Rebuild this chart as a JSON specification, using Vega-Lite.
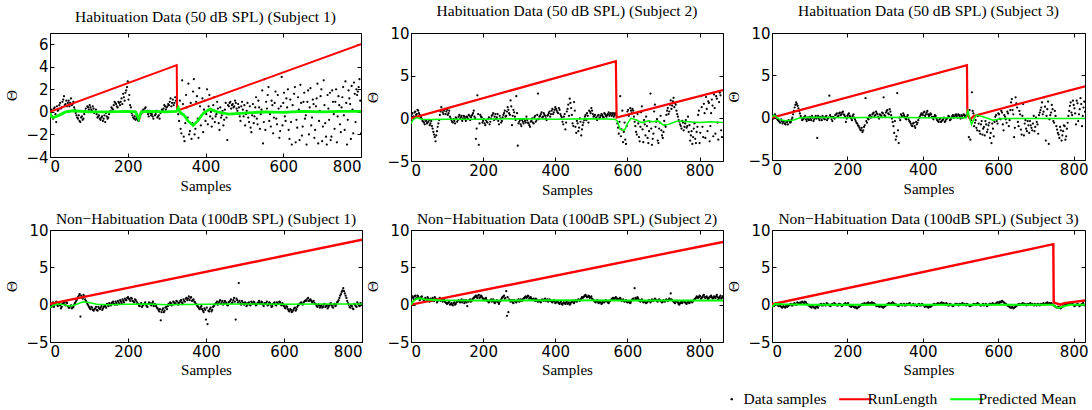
{
"$schema": "https://vega.github.io/schema/vega-lite/v6.json",
"padding": {"left": 4, "top": 3, "right": 0, "bottom": 0},
"config": {
  "view": {"stroke": "#000000", "strokeWidth": 1},
  "axis": {"grid": false, "domain": false, "tickColor": "#000000", "tickSize": -4, "labelColor": "#000000", "labelFont": "DejaVu Sans", "labelFontSize": 15, "titleFont": "Liberation Serif", "titleFontSize": 15, "titleFontWeight": "normal", "titleColor": "#000000"},
  "title": {"font": "Liberation Serif", "fontSize": 15.5, "fontWeight": "normal", "color": "#000000", "offset": 7},
  "point": {"filled": true, "size": 5, "opacity": 1}
},
"datasets": {
"d1": [{"x":0,"y":-0.3},{"x":4,"y":0.2},{"x":8,"y":-0.6},{"x":12,"y":0.4},{"x":16,"y":-0.9},{"x":20,"y":0.1},{"x":24,"y":0.6},{"x":28,"y":0.3},{"x":32,"y":0.9},{"x":36,"y":1.4},{"x":40,"y":0.7},{"x":44,"y":0.5},{"x":48,"y":1.0},{"x":52,"y":0.8},{"x":56,"y":0.6},{"x":60,"y":0.9},{"x":64,"y":0.2},{"x":68,"y":-0.3},{"x":72,"y":-0.6},{"x":76,"y":-0.8},{"x":80,"y":-0.5},{"x":84,"y":-0.7},{"x":88,"y":-0.2},{"x":92,"y":0.3},{"x":96,"y":0.5},{"x":100,"y":0.2},{"x":104,"y":0.4},{"x":108,"y":0.1},{"x":112,"y":0.3},{"x":116,"y":0.0},{"x":120,"y":-0.2},{"x":124,"y":-0.4},{"x":128,"y":-0.6},{"x":132,"y":-0.5},{"x":136,"y":-0.8},{"x":140,"y":-0.3},{"x":144,"y":-0.1},{"x":148,"y":-0.6},{"x":152,"y":-0.2},{"x":156,"y":0.1},{"x":160,"y":0.3},{"x":164,"y":0.6},{"x":168,"y":0.8},{"x":172,"y":0.5},{"x":176,"y":0.9},{"x":180,"y":0.6},{"x":184,"y":1.2},{"x":188,"y":1.6},{"x":192,"y":1.0},{"x":196,"y":1.9},{"x":200,"y":2.7},{"x":204,"y":1.5},{"x":208,"y":0.4},{"x":212,"y":-0.3},{"x":216,"y":-0.6},{"x":220,"y":-0.7},{"x":224,"y":-0.5},{"x":228,"y":-0.8},{"x":232,"y":-0.4},{"x":236,"y":-0.1},{"x":240,"y":0.2},{"x":244,"y":0.3},{"x":248,"y":0.0},{"x":252,"y":-0.2},{"x":256,"y":0.1},{"x":260,"y":-0.3},{"x":264,"y":-0.4},{"x":268,"y":0.0},{"x":272,"y":-0.2},{"x":276,"y":-0.5},{"x":280,"y":-0.3},{"x":284,"y":-0.1},{"x":288,"y":0.2},{"x":292,"y":0.3},{"x":296,"y":0.5},{"x":300,"y":0.4},{"x":304,"y":0.7},{"x":308,"y":0.9},{"x":312,"y":0.5},{"x":316,"y":1.1},{"x":320,"y":0.8},{"x":324,"y":1.0},{"x":328,"y":0.3},{"x":332,"y":-0.8},{"x":336,"y":-1.5},{"x":340,"y":2.8},{"x":344,"y":-2.2},{"x":348,"y":-1.0},{"x":352,"y":0.4},{"x":356,"y":2.5},{"x":360,"y":-1.7},{"x":364,"y":-2.4},{"x":368,"y":1.8},{"x":372,"y":-2.0},{"x":376,"y":0.9},{"x":380,"y":-0.6},{"x":384,"y":2.1},{"x":388,"y":-1.2},{"x":392,"y":1.2},{"x":396,"y":0.2},{"x":400,"y":-0.8},{"x":404,"y":2.0},{"x":408,"y":0.5},{"x":412,"y":-0.4},{"x":416,"y":-1.3},{"x":420,"y":0.6},{"x":424,"y":-0.9},{"x":428,"y":-0.2},{"x":432,"y":0.3},{"x":436,"y":-1.6},{"x":440,"y":-0.5},{"x":444,"y":0.1},{"x":448,"y":-0.7},{"x":452,"y":0.8},{"x":456,"y":-2.5},{"x":460,"y":0.5},{"x":464,"y":0.9},{"x":468,"y":0.6},{"x":472,"y":0.4},{"x":476,"y":1.0},{"x":480,"y":0.3},{"x":484,"y":0.7},{"x":488,"y":-0.4},{"x":492,"y":0.5},{"x":496,"y":0.2},{"x":500,"y":0.6},{"x":504,"y":-0.2},{"x":508,"y":0.8},{"x":512,"y":-0.9},{"x":516,"y":-1.4},{"x":520,"y":-0.3},{"x":524,"y":-1.0},{"x":528,"y":0.4},{"x":532,"y":-0.6},{"x":536,"y":1.0},{"x":540,"y":-1.5},{"x":544,"y":0.2},{"x":548,"y":-2.8},{"x":552,"y":2.9},{"x":556,"y":0.9},{"x":560,"y":1.5},{"x":564,"y":-0.8},{"x":568,"y":-1.3},{"x":572,"y":0.6},{"x":576,"y":-0.5},{"x":580,"y":1.8},{"x":584,"y":-1.1},{"x":588,"y":0.3},{"x":592,"y":-1.7},{"x":596,"y":3.1},{"x":600,"y":0.8},{"x":604,"y":-0.4},{"x":608,"y":1.2},{"x":612,"y":2.0},{"x":616,"y":-2.4},{"x":620,"y":-0.9},{"x":624,"y":0.6},{"x":628,"y":1.6},{"x":632,"y":-2.7},{"x":636,"y":-1.4},{"x":640,"y":0.2},{"x":644,"y":2.4},{"x":648,"y":-2.1},{"x":652,"y":0.9},{"x":656,"y":-0.6},{"x":660,"y":-2.9},{"x":664,"y":1.9},{"x":668,"y":0.4},{"x":672,"y":-1.2},{"x":676,"y":1.1},{"x":680,"y":-2.3},{"x":684,"y":0.5},{"x":688,"y":2.5},{"x":692,"y":-0.8},{"x":696,"y":1.4},{"x":700,"y":-2.6},{"x":704,"y":2.8},{"x":708,"y":-1.0},{"x":712,"y":-2.9},{"x":716,"y":0.3},{"x":720,"y":1.7},{"x":724,"y":-2.2},{"x":728,"y":0.9},{"x":732,"y":-1.5},{"x":736,"y":2.0},{"x":740,"y":-0.4},{"x":744,"y":0.6},{"x":748,"y":-1.8},{"x":752,"y":1.3},{"x":756,"y":-0.3},{"x":760,"y":2.7},{"x":764,"y":-2.9},{"x":768,"y":1.9},{"x":772,"y":0.7},{"x":776,"y":2.3},{"x":780,"y":-1.9},{"x":784,"y":1.6},{"x":788,"y":2.0},{"x":792,"y":1.8},{"x":796,"y":2.9},{"x":800,"y":-1.9},
{"x":2,"y":0.1},{"x":6,"y":-0.4},{"x":10,"y":0.3},{"x":14,"y":-0.2},{"x":18,"y":0.5},{"x":22,"y":0.2},{"x":26,"y":0.8},{"x":30,"y":0.4},{"x":34,"y":1.1},{"x":38,"y":0.6},{"x":42,"y":1.0},{"x":46,"y":0.8},{"x":50,"y":0.5},{"x":54,"y":1.2},{"x":58,"y":0.7},{"x":62,"y":0.4},{"x":66,"y":-0.1},{"x":70,"y":-0.5},{"x":74,"y":-0.3},{"x":78,"y":-0.9},{"x":82,"y":-0.4},{"x":86,"y":-0.6},{"x":90,"y":0.1},{"x":94,"y":0.0},{"x":98,"y":0.4},{"x":102,"y":0.6},{"x":106,"y":0.2},{"x":110,"y":0.5},{"x":114,"y":-0.1},{"x":118,"y":0.2},{"x":122,"y":-0.5},{"x":126,"y":-0.3},{"x":130,"y":-0.7},{"x":134,"y":-0.4},{"x":138,"y":-0.6},{"x":142,"y":-0.9},{"x":146,"y":-0.4},{"x":150,"y":-0.5},{"x":154,"y":0.0},{"x":158,"y":0.4},{"x":162,"y":0.2},{"x":166,"y":0.9},{"x":170,"y":0.7},{"x":174,"y":0.4},{"x":178,"y":0.8},{"x":182,"y":0.9},{"x":186,"y":0.7},{"x":190,"y":1.3},{"x":194,"y":1.7},{"x":198,"y":2.2},{"x":202,"y":1.1},{"x":206,"y":0.6},{"x":210,"y":-0.1},{"x":214,"y":-0.5},{"x":218,"y":-0.4},{"x":222,"y":-0.6},{"x":226,"y":-0.7},{"x":230,"y":-0.6},{"x":234,"y":-0.2},{"x":238,"y":0.1},{"x":242,"y":0.0},{"x":246,"y":0.4},{"x":250,"y":0.1},{"x":254,"y":-0.4},{"x":258,"y":-0.1},{"x":262,"y":-0.2},{"x":266,"y":-0.6},{"x":270,"y":-0.3},{"x":274,"y":0.1},{"x":278,"y":-0.4},{"x":282,"y":-0.6},{"x":286,"y":0.0},{"x":290,"y":0.1},{"x":294,"y":0.6},{"x":298,"y":0.2},{"x":302,"y":0.5},{"x":306,"y":0.6},{"x":310,"y":1.2},{"x":314,"y":0.8},{"x":318,"y":0.6},{"x":322,"y":1.3},{"x":330,"y":-0.2},{"x":334,"y":1.0},{"x":338,"y":-1.9},{"x":342,"y":0.7},{"x":346,"y":-2.6},{"x":350,"y":1.5},{"x":354,"y":-0.5},{"x":358,"y":-2.0},{"x":362,"y":0.8},{"x":366,"y":-1.0},{"x":370,"y":2.9},{"x":374,"y":-1.5},{"x":378,"y":1.4},{"x":382,"y":-2.3},{"x":386,"y":0.5},{"x":390,"y":-0.3},{"x":394,"y":-1.8},{"x":398,"y":1.0},{"x":402,"y":-0.2},{"x":406,"y":-1.1},{"x":410,"y":1.5},{"x":414,"y":0.0},{"x":418,"y":-0.6},{"x":422,"y":1.3},{"x":426,"y":-0.4},{"x":430,"y":0.9},{"x":434,"y":-1.0},{"x":438,"y":0.4},{"x":442,"y":-0.3},{"x":446,"y":-1.2},{"x":450,"y":0.2},{"x":454,"y":-0.5},{"x":458,"y":0.6},{"x":462,"y":0.8},{"x":466,"y":0.3},{"x":470,"y":0.7},{"x":474,"y":0.5},{"x":478,"y":0.8},{"x":482,"y":0.1},{"x":486,"y":0.4},{"x":490,"y":-0.8},{"x":494,"y":0.9},{"x":498,"y":-0.4},{"x":502,"y":-1.2},{"x":506,"y":0.1},{"x":510,"y":-0.5},{"x":514,"y":0.5},{"x":518,"y":-1.8},{"x":522,"y":0.7},{"x":526,"y":-0.4},{"x":530,"y":1.3},{"x":534,"y":-1.1},{"x":538,"y":0.4},{"x":542,"y":-0.2},{"x":546,"y":1.9},{"x":550,"y":-0.9},{"x":554,"y":-1.6},{"x":558,"y":0.3},{"x":562,"y":2.2},{"x":566,"y":-0.2},{"x":570,"y":1.0},{"x":574,"y":-1.9},{"x":578,"y":0.8},{"x":582,"y":-0.6},{"x":586,"y":1.5},{"x":590,"y":-2.3},{"x":594,"y":0.5},{"x":598,"y":-1.2},{"x":602,"y":1.7},{"x":606,"y":-0.8},{"x":610,"y":0.4},{"x":614,"y":-1.6},{"x":618,"y":1.1},{"x":622,"y":-2.9},{"x":626,"y":0.0},{"x":630,"y":2.2},{"x":634,"y":-0.7},{"x":638,"y":1.3},{"x":642,"y":-2.5},{"x":646,"y":0.8},{"x":650,"y":-1.3},{"x":654,"y":1.7},{"x":658,"y":-0.3},{"x":662,"y":0.9},{"x":666,"y":-2.0},{"x":670,"y":2.1},{"x":674,"y":-0.5},{"x":678,"y":0.7},{"x":682,"y":-1.6},{"x":686,"y":1.2},{"x":690,"y":-2.8},{"x":694,"y":0.1},{"x":698,"y":2.0},{"x":702,"y":-1.3},{"x":706,"y":0.6},{"x":710,"y":-2.2},{"x":714,"y":1.5},{"x":718,"y":-0.7},{"x":722,"y":-2.5},{"x":726,"y":1.9},{"x":730,"y":-0.2},{"x":734,"y":0.9},{"x":738,"y":-2.7},{"x":742,"y":1.4},{"x":746,"y":-1.1},{"x":750,"y":0.4},{"x":754,"y":2.2},{"x":758,"y":-1.6},{"x":762,"y":0.8},{"x":766,"y":-0.7},{"x":770,"y":1.2},{"x":774,"y":-2.4},{"x":778,"y":0.2},{"x":782,"y":2.6},{"x":786,"y":-0.9},{"x":790,"y":1.5},{"x":794,"y":2.2},{"x":798,"y":1.0}],
"r1": [{"x":0,"y":0.0},{"x":326,"y":4.15},{"x":327,"y":0.1},{"x":800,"y":6.0}],
"g1": [{"x":0,"y":-0.1},{"x":3,"y":-0.4},{"x":8,"y":-0.5},{"x":20,"y":-0.35},{"x":40,"y":0.0},{"x":60,"y":0.1},{"x":100,"y":0.0},{"x":150,"y":0.0},{"x":200,"y":0.05},{"x":220,"y":0.0},{"x":228,"y":-0.6},{"x":235,"y":0.0},{"x":260,"y":0.05},{"x":300,"y":0.0},{"x":325,"y":0.05},{"x":330,"y":0.35},{"x":335,"y":-0.05},{"x":345,"y":-0.3},{"x":355,"y":-0.8},{"x":368,"y":-1.2},{"x":380,"y":-0.8},{"x":395,"y":-0.1},{"x":412,"y":0.25},{"x":430,"y":0.0},{"x":460,"y":-0.2},{"x":500,"y":-0.1},{"x":550,"y":0.0},{"x":600,"y":-0.05},{"x":650,"y":0.05},{"x":700,"y":0.0},{"x":750,"y":0.05},{"x":800,"y":0.05}],
"d2": [{"x":0,"y":0.3},{"x":4,"y":0.6},{"x":8,"y":0.2},{"x":12,"y":0.8},{"x":16,"y":0.5},{"x":20,"y":0.9},{"x":24,"y":0.4},{"x":28,"y":0.1},{"x":32,"y":-0.3},{"x":36,"y":-0.5},{"x":40,"y":-0.2},{"x":44,"y":-0.6},{"x":48,"y":-0.4},{"x":52,"y":-0.8},{"x":56,"y":-0.3},{"x":60,"y":-1.2},{"x":64,"y":-1.9},{"x":68,"y":-2.7},{"x":72,"y":-1.5},{"x":76,"y":-0.6},{"x":80,"y":0.4},{"x":84,"y":1.3},{"x":88,"y":0.7},{"x":92,"y":0.9},{"x":96,"y":0.5},{"x":100,"y":1.0},{"x":104,"y":0.6},{"x":108,"y":0.2},{"x":112,"y":-0.2},{"x":116,"y":-0.5},{"x":120,"y":-0.3},{"x":124,"y":0.1},{"x":128,"y":-0.4},{"x":132,"y":0.2},{"x":136,"y":-0.1},{"x":140,"y":0.3},{"x":144,"y":0.0},{"x":148,"y":0.2},{"x":152,"y":-0.3},{"x":156,"y":0.1},{"x":160,"y":0.4},{"x":164,"y":-0.2},{"x":168,"y":0.3},{"x":172,"y":0.6},{"x":176,"y":0.2},{"x":180,"y":-2.4},{"x":184,"y":2.7},{"x":188,"y":-3.1},{"x":192,"y":0.4},{"x":196,"y":0.1},{"x":200,"y":-0.3},{"x":204,"y":-0.6},{"x":208,"y":-0.2},{"x":212,"y":-0.5},{"x":216,"y":0.1},{"x":220,"y":-0.4},{"x":224,"y":0.3},{"x":228,"y":0.6},{"x":232,"y":0.2},{"x":236,"y":-0.1},{"x":240,"y":0.5},{"x":244,"y":-0.7},{"x":248,"y":0.0},{"x":252,"y":-0.3},{"x":256,"y":0.4},{"x":260,"y":0.9},{"x":264,"y":0.3},{"x":268,"y":1.3},{"x":272,"y":0.6},{"x":276,"y":2.1},{"x":280,"y":-0.8},{"x":284,"y":1.0},{"x":288,"y":0.2},{"x":292,"y":2.6},{"x":296,"y":-3.2},{"x":300,"y":-0.4},{"x":304,"y":-0.7},{"x":308,"y":-0.2},{"x":312,"y":-0.6},{"x":316,"y":-0.3},{"x":320,"y":0.2},{"x":324,"y":-0.5},{"x":328,"y":-0.8},{"x":332,"y":-0.4},{"x":336,"y":0.0},{"x":340,"y":-0.6},{"x":344,"y":0.3},{"x":348,"y":-0.2},{"x":352,"y":2.9},{"x":356,"y":0.2},{"x":360,"y":0.5},{"x":364,"y":0.1},{"x":368,"y":0.6},{"x":372,"y":0.3},{"x":376,"y":-0.2},{"x":380,"y":0.4},{"x":384,"y":0.8},{"x":388,"y":0.5},{"x":392,"y":1.1},{"x":396,"y":0.7},{"x":400,"y":1.3},{"x":404,"y":0.9},{"x":408,"y":0.6},{"x":412,"y":1.0},{"x":416,"y":0.3},{"x":420,"y":-0.4},{"x":424,"y":0.2},{"x":428,"y":-1.3},{"x":432,"y":0.8},{"x":436,"y":1.6},{"x":440,"y":2.3},{"x":444,"y":1.2},{"x":448,"y":-0.6},{"x":452,"y":1.9},{"x":456,"y":-1.0},{"x":460,"y":-0.3},{"x":464,"y":-1.5},{"x":468,"y":0.0},{"x":472,"y":-2.0},{"x":476,"y":-0.8},{"x":480,"y":-0.2},{"x":484,"y":0.4},{"x":488,"y":0.6},{"x":492,"y":-0.5},{"x":496,"y":0.8},{"x":500,"y":1.2},{"x":504,"y":0.5},{"x":508,"y":0.3},{"x":512,"y":0.0},{"x":516,"y":-0.2},{"x":520,"y":0.4},{"x":524,"y":0.1},{"x":528,"y":0.5},{"x":532,"y":0.2},{"x":536,"y":0.6},{"x":540,"y":0.3},{"x":544,"y":0.4},{"x":548,"y":0.7},{"x":552,"y":0.5},{"x":556,"y":0.3},{"x":560,"y":0.6},{"x":564,"y":0.4},{"x":568,"y":0.5},{"x":572,"y":-0.6},{"x":576,"y":-1.8},{"x":580,"y":2.6},{"x":584,"y":-1.3},{"x":588,"y":-2.8},{"x":592,"y":-0.5},{"x":596,"y":-3.0},{"x":600,"y":0.8},{"x":604,"y":0.3},{"x":608,"y":1.2},{"x":612,"y":0.6},{"x":616,"y":0.9},{"x":620,"y":-0.4},{"x":624,"y":-1.6},{"x":628,"y":0.5},{"x":632,"y":-2.2},{"x":636,"y":-1.0},{"x":640,"y":1.4},{"x":644,"y":-2.8},{"x":648,"y":-0.7},{"x":652,"y":0.2},{"x":656,"y":-2.3},{"x":660,"y":-1.5},{"x":664,"y":2.9},{"x":668,"y":-3.1},{"x":672,"y":-1.8},{"x":676,"y":1.6},{"x":680,"y":-0.4},{"x":684,"y":-2.6},{"x":688,"y":-1.2},{"x":692,"y":0.3},{"x":696,"y":-2.0},{"x":700,"y":-1.6},{"x":704,"y":-0.8},{"x":708,"y":0.4},{"x":712,"y":1.2},{"x":716,"y":0.8},{"x":720,"y":2.1},{"x":724,"y":1.5},{"x":728,"y":2.4},{"x":732,"y":1.8},{"x":736,"y":0.9},{"x":740,"y":0.2},{"x":744,"y":-0.4},{"x":748,"y":-0.9},{"x":752,"y":-0.3},{"x":756,"y":-1.4},{"x":760,"y":-0.6},{"x":764,"y":-1.1},{"x":768,"y":0.2},{"x":772,"y":-0.8},{"x":776,"y":-2.0},{"x":780,"y":-3.0},{"x":784,"y":-1.2},{"x":788,"y":-2.4},{"x":792,"y":-1.6},{"x":796,"y":0.4},{"x":800,"y":-2.9},{"x":804,"y":2.6},{"x":808,"y":-1.0},{"x":812,"y":1.7},{"x":816,"y":-2.3},{"x":820,"y":1.1},{"x":824,"y":2.0},{"x":828,"y":-2.7},{"x":832,"y":0.6},{"x":836,"y":1.5},{"x":840,"y":2.8},{"x":844,"y":-1.8},{"x":848,"y":2.3},{"x":852,"y":-2.5},{"x":856,"y":3.0},{"x":860,"y":-1.4},
{"x":2,"y":0.5},{"x":6,"y":0.2},{"x":10,"y":0.7},{"x":14,"y":0.4},{"x":18,"y":1.0},{"x":22,"y":0.6},{"x":26,"y":0.2},{"x":30,"y":-0.1},{"x":34,"y":-0.4},{"x":38,"y":-0.7},{"x":42,"y":-0.3},{"x":46,"y":-0.5},{"x":50,"y":-0.2},{"x":54,"y":-0.6},{"x":58,"y":-0.9},{"x":62,"y":-1.6},{"x":66,"y":-2.2},{"x":70,"y":-2.0},{"x":74,"y":-1.0},{"x":78,"y":-0.2},{"x":82,"y":0.8},{"x":86,"y":1.0},{"x":90,"y":0.5},{"x":94,"y":1.1},{"x":98,"y":0.8},{"x":102,"y":0.4},{"x":106,"y":0.9},{"x":110,"y":0.0},{"x":114,"y":-0.4},{"x":118,"y":-0.1},{"x":122,"y":-0.6},{"x":126,"y":0.0},{"x":130,"y":-0.2},{"x":134,"y":0.4},{"x":138,"y":0.1},{"x":142,"y":-0.3},{"x":146,"y":0.3},{"x":150,"y":0.0},{"x":154,"y":0.2},{"x":158,"y":-0.1},{"x":162,"y":0.3},{"x":166,"y":0.1},{"x":170,"y":0.4},{"x":174,"y":0.9},{"x":178,"y":0.0},{"x":182,"y":-1.2},{"x":186,"y":0.5},{"x":190,"y":-0.6},{"x":194,"y":0.2},{"x":198,"y":-0.5},{"x":202,"y":-0.1},{"x":206,"y":-0.8},{"x":210,"y":-0.4},{"x":214,"y":-0.1},{"x":218,"y":-0.7},{"x":222,"y":0.0},{"x":226,"y":0.4},{"x":230,"y":-0.2},{"x":234,"y":0.5},{"x":238,"y":0.1},{"x":242,"y":-0.3},{"x":246,"y":0.3},{"x":250,"y":-0.5},{"x":254,"y":0.1},{"x":258,"y":0.6},{"x":262,"y":0.2},{"x":266,"y":0.8},{"x":270,"y":1.0},{"x":274,"y":0.4},{"x":278,"y":1.4},{"x":282,"y":0.3},{"x":286,"y":0.7},{"x":290,"y":-0.2},{"x":294,"y":0.6},{"x":298,"y":-0.6},{"x":302,"y":-0.2},{"x":306,"y":-0.9},{"x":310,"y":-0.4},{"x":314,"y":-0.1},{"x":318,"y":-0.5},{"x":322,"y":-0.2},{"x":326,"y":-0.6},{"x":330,"y":-1.0},{"x":334,"y":-0.3},{"x":338,"y":-0.5},{"x":342,"y":0.1},{"x":346,"y":-0.4},{"x":350,"y":0.4},{"x":354,"y":-0.1},{"x":358,"y":0.3},{"x":362,"y":0.7},{"x":366,"y":0.2},{"x":370,"y":0.4},{"x":374,"y":0.0},{"x":378,"y":0.3},{"x":382,"y":0.6},{"x":386,"y":0.2},{"x":390,"y":0.9},{"x":394,"y":0.5},{"x":398,"y":1.0},{"x":402,"y":1.1},{"x":406,"y":0.7},{"x":410,"y":1.2},{"x":414,"y":0.5},{"x":418,"y":0.1},{"x":422,"y":-0.7},{"x":426,"y":0.5},{"x":430,"y":-0.5},{"x":434,"y":1.1},{"x":438,"y":0.3},{"x":442,"y":1.8},{"x":446,"y":0.4},{"x":450,"y":-0.9},{"x":454,"y":0.9},{"x":458,"y":-1.7},{"x":462,"y":-0.6},{"x":466,"y":-1.1},{"x":470,"y":-0.4},{"x":474,"y":-1.3},{"x":478,"y":-0.5},{"x":482,"y":0.2},{"x":486,"y":-0.2},{"x":490,"y":0.3},{"x":494,"y":0.9},{"x":498,"y":0.6},{"x":502,"y":0.9},{"x":506,"y":0.2},{"x":510,"y":0.4},{"x":514,"y":0.1},{"x":518,"y":0.3},{"x":522,"y":0.0},{"x":526,"y":0.3},{"x":530,"y":0.4},{"x":534,"y":0.1},{"x":538,"y":0.5},{"x":542,"y":0.2},{"x":546,"y":0.5},{"x":550,"y":0.3},{"x":554,"y":0.6},{"x":558,"y":0.4},{"x":562,"y":0.2},{"x":566,"y":0.6},{"x":570,"y":0.3},{"x":574,"y":-1.1},{"x":578,"y":-0.4},{"x":582,"y":-2.1},{"x":586,"y":0.9},{"x":590,"y":-1.6},{"x":594,"y":-2.5},{"x":598,"y":-0.9},{"x":602,"y":1.0},{"x":606,"y":0.5},{"x":610,"y":0.9},{"x":614,"y":1.1},{"x":618,"y":0.2},{"x":622,"y":-0.9},{"x":626,"y":-1.9},{"x":630,"y":-0.6},{"x":634,"y":-2.7},{"x":638,"y":0.7},{"x":642,"y":-1.3},{"x":646,"y":-0.2},{"x":650,"y":-2.0},{"x":654,"y":-0.9},{"x":658,"y":-2.9},{"x":662,"y":-0.4},{"x":666,"y":-1.2},{"x":670,"y":-2.4},{"x":674,"y":0.8},{"x":678,"y":-1.0},{"x":682,"y":-0.1},{"x":686,"y":-2.9},{"x":690,"y":-0.5},{"x":694,"y":-1.4},{"x":698,"y":-2.3},{"x":702,"y":-0.3},{"x":706,"y":-1.0},{"x":710,"y":0.9},{"x":714,"y":0.5},{"x":718,"y":1.6},{"x":722,"y":1.1},{"x":726,"y":2.0},{"x":730,"y":1.3},{"x":734,"y":1.6},{"x":738,"y":0.5},{"x":742,"y":-0.2},{"x":746,"y":-0.7},{"x":750,"y":-1.2},{"x":754,"y":-0.5},{"x":758,"y":-1.0},{"x":762,"y":-0.2},{"x":766,"y":-0.9},{"x":770,"y":-1.6},{"x":774,"y":-2.6},{"x":778,"y":-1.5},{"x":782,"y":-2.2},{"x":786,"y":-0.6},{"x":790,"y":-2.9},{"x":794,"y":-1.0},{"x":798,"y":0.9},{"x":802,"y":-1.7},{"x":806,"y":1.3},{"x":810,"y":-2.2},{"x":814,"y":0.6},{"x":818,"y":2.5},{"x":822,"y":-1.5},{"x":826,"y":1.8},{"x":830,"y":-0.9},{"x":834,"y":2.2},{"x":838,"y":-2.1},{"x":842,"y":1.2},{"x":846,"y":2.6},{"x":850,"y":-0.5},{"x":854,"y":1.9},{"x":858,"y":2.7},{"x":862,"y":-2.2}],
"r2": [{"x":0,"y":0.0},{"x":568,"y":6.7},{"x":570,"y":0.1},{"x":865,"y":3.3}],
"g2": [{"x":0,"y":-0.6},{"x":5,"y":-0.2},{"x":15,"y":0.1},{"x":30,"y":-0.1},{"x":60,"y":-0.15},{"x":100,"y":-0.1},{"x":200,"y":-0.1},{"x":300,"y":-0.05},{"x":400,"y":-0.1},{"x":500,"y":-0.05},{"x":565,"y":-0.1},{"x":572,"y":-0.3},{"x":580,"y":-1.3},{"x":592,"y":-1.4},{"x":600,"y":-0.6},{"x":610,"y":0.0},{"x":625,"y":-0.2},{"x":640,"y":-0.5},{"x":660,"y":-0.3},{"x":670,"y":-0.4},{"x":685,"y":-0.3},{"x":700,"y":-0.8},{"x":715,"y":-0.7},{"x":740,"y":-0.3},{"x":770,"y":-0.4},{"x":800,"y":-0.5},{"x":830,"y":-0.4},{"x":865,"y":-0.5}],
"d3": [{"x":0,"y":0.2},{"x":4,"y":-0.1},{"x":8,"y":0.4},{"x":12,"y":0.1},{"x":16,"y":-0.3},{"x":20,"y":-0.5},{"x":24,"y":-0.2},{"x":28,"y":-0.7},{"x":32,"y":-0.4},{"x":36,"y":-0.8},{"x":40,"y":-0.5},{"x":44,"y":-0.3},{"x":48,"y":-0.6},{"x":52,"y":-0.2},{"x":56,"y":0.4},{"x":60,"y":1.2},{"x":64,"y":1.8},{"x":68,"y":1.4},{"x":72,"y":0.8},{"x":76,"y":0.2},{"x":80,"y":-0.3},{"x":84,"y":-0.1},{"x":88,"y":0.2},{"x":92,"y":-0.4},{"x":96,"y":-0.2},{"x":100,"y":0.1},{"x":104,"y":-0.3},{"x":108,"y":0.0},{"x":112,"y":-0.2},{"x":116,"y":0.2},{"x":120,"y":-2.4},{"x":124,"y":-0.1},{"x":128,"y":0.1},{"x":132,"y":-0.3},{"x":136,"y":0.0},{"x":140,"y":-0.2},{"x":144,"y":0.2},{"x":148,"y":-0.1},{"x":152,"y":2.6},{"x":156,"y":0.1},{"x":160,"y":-0.4},{"x":164,"y":0.0},{"x":168,"y":0.3},{"x":172,"y":0.5},{"x":176,"y":0.2},{"x":180,"y":0.6},{"x":184,"y":0.4},{"x":188,"y":0.7},{"x":192,"y":0.3},{"x":196,"y":-0.5},{"x":200,"y":0.2},{"x":204,"y":0.5},{"x":208,"y":0.1},{"x":212,"y":-0.3},{"x":216,"y":0.4},{"x":220,"y":-0.2},{"x":224,"y":-0.6},{"x":228,"y":-0.9},{"x":232,"y":-1.2},{"x":236,"y":-1.5},{"x":240,"y":-1.7},{"x":244,"y":-1.1},{"x":248,"y":2.3},{"x":252,"y":-0.6},{"x":256,"y":-0.2},{"x":260,"y":0.3},{"x":264,"y":0.1},{"x":268,"y":0.5},{"x":272,"y":0.2},{"x":276,"y":0.7},{"x":280,"y":0.4},{"x":284,"y":-0.1},{"x":288,"y":0.3},{"x":292,"y":0.6},{"x":296,"y":2.4},{"x":300,"y":0.2},{"x":304,"y":0.8},{"x":308,"y":0.5},{"x":312,"y":1.0},{"x":316,"y":0.3},{"x":320,"y":-0.5},{"x":324,"y":-1.8},{"x":328,"y":-2.6},{"x":332,"y":2.9},{"x":336,"y":-3.0},{"x":340,"y":-0.3},{"x":344,"y":0.2},{"x":348,"y":0.5},{"x":352,"y":0.1},{"x":356,"y":-0.2},{"x":360,"y":0.3},{"x":364,"y":-0.4},{"x":368,"y":-0.7},{"x":372,"y":-1.0},{"x":376,"y":-0.6},{"x":380,"y":-1.2},{"x":384,"y":-0.8},{"x":388,"y":-0.3},{"x":392,"y":0.1},{"x":396,"y":0.5},{"x":400,"y":0.3},{"x":404,"y":0.7},{"x":408,"y":0.4},{"x":412,"y":0.8},{"x":416,"y":0.2},{"x":420,"y":0.5},{"x":424,"y":0.1},{"x":428,"y":-0.2},{"x":432,"y":0.3},{"x":436,"y":-0.1},{"x":440,"y":-0.4},{"x":444,"y":-0.2},{"x":448,"y":-0.5},{"x":452,"y":-0.3},{"x":456,"y":0.0},{"x":460,"y":-0.4},{"x":464,"y":-0.1},{"x":468,"y":0.2},{"x":472,"y":-0.3},{"x":476,"y":0.0},{"x":480,"y":0.3},{"x":484,"y":0.1},{"x":488,"y":0.4},{"x":492,"y":0.0},{"x":496,"y":0.3},{"x":500,"y":-0.1},{"x":504,"y":0.2},{"x":508,"y":0.4},{"x":512,"y":0.1},{"x":516,"y":0.3},{"x":520,"y":0.6},{"x":522,"y":-2.3},{"x":524,"y":0.9},{"x":526,"y":-2.6},{"x":530,"y":3.0},{"x":534,"y":0.5},{"x":538,"y":-0.6},{"x":542,"y":-1.2},{"x":546,"y":0.2},{"x":550,"y":-1.6},{"x":554,"y":-0.8},{"x":558,"y":-2.0},{"x":562,"y":-1.1},{"x":566,"y":-0.4},{"x":570,"y":-1.7},{"x":574,"y":-0.9},{"x":578,"y":-2.4},{"x":582,"y":-3.0},{"x":586,"y":-1.3},{"x":590,"y":-0.5},{"x":594,"y":0.3},{"x":598,"y":-0.7},{"x":602,"y":0.4},{"x":606,"y":-0.2},{"x":610,"y":0.6},{"x":614,"y":-1.5},{"x":618,"y":0.1},{"x":622,"y":-0.6},{"x":626,"y":0.5},{"x":630,"y":-0.3},{"x":634,"y":1.8},{"x":638,"y":0.9},{"x":642,"y":-2.3},{"x":646,"y":2.4},{"x":650,"y":1.2},{"x":654,"y":-1.0},{"x":658,"y":0.4},{"x":662,"y":-2.0},{"x":666,"y":1.6},{"x":670,"y":-0.7},{"x":674,"y":-1.3},{"x":678,"y":-0.4},{"x":682,"y":-1.8},{"x":686,"y":-0.9},{"x":690,"y":-1.5},{"x":694,"y":0.2},{"x":698,"y":-1.1},{"x":702,"y":-0.5},{"x":706,"y":-1.9},{"x":710,"y":0.6},{"x":714,"y":1.2},{"x":718,"y":0.4},{"x":722,"y":2.4},{"x":726,"y":-2.7},{"x":730,"y":1.0},{"x":734,"y":-3.1},{"x":738,"y":0.3},{"x":742,"y":1.5},{"x":746,"y":-0.4},{"x":750,"y":0.8},{"x":754,"y":-1.0},{"x":758,"y":-1.8},{"x":762,"y":-2.4},{"x":766,"y":-1.5},{"x":770,"y":-2.1},{"x":774,"y":-0.9},{"x":778,"y":-2.6},{"x":782,"y":-1.3},{"x":786,"y":0.2},{"x":790,"y":1.4},{"x":794,"y":0.6},{"x":798,"y":2.0},{"x":802,"y":1.1},{"x":806,"y":-0.8},{"x":810,"y":1.7},{"x":814,"y":0.4},{"x":818,"y":2.3},{"x":822,"y":-1.0},{"x":826,"y":1.2},{"x":830,"y":0.7},
{"x":2,"y":0.3},{"x":6,"y":0.0},{"x":10,"y":0.2},{"x":14,"y":-0.2},{"x":18,"y":-0.4},{"x":22,"y":-0.6},{"x":26,"y":-0.4},{"x":30,"y":-0.5},{"x":34,"y":-0.7},{"x":38,"y":-0.5},{"x":42,"y":-0.8},{"x":46,"y":-0.4},{"x":50,"y":-0.5},{"x":54,"y":0.0},{"x":58,"y":0.8},{"x":62,"y":1.5},{"x":66,"y":1.6},{"x":70,"y":1.1},{"x":74,"y":0.5},{"x":78,"y":0.0},{"x":82,"y":-0.2},{"x":86,"y":0.1},{"x":90,"y":-0.2},{"x":94,"y":0.0},{"x":98,"y":-0.3},{"x":102,"y":-0.1},{"x":106,"y":0.2},{"x":110,"y":-0.4},{"x":114,"y":0.0},{"x":118,"y":-0.1},{"x":122,"y":0.2},{"x":126,"y":-0.3},{"x":130,"y":0.0},{"x":134,"y":0.2},{"x":138,"y":-0.1},{"x":142,"y":0.1},{"x":146,"y":-0.3},{"x":150,"y":0.0},{"x":154,"y":0.3},{"x":158,"y":-0.2},{"x":162,"y":0.1},{"x":166,"y":-0.1},{"x":170,"y":0.4},{"x":174,"y":0.1},{"x":178,"y":0.5},{"x":182,"y":0.3},{"x":186,"y":0.6},{"x":190,"y":0.4},{"x":194,"y":0.1},{"x":198,"y":-0.1},{"x":202,"y":0.4},{"x":206,"y":0.2},{"x":210,"y":-0.1},{"x":214,"y":0.2},{"x":218,"y":0.0},{"x":222,"y":-0.4},{"x":226,"y":-0.7},{"x":230,"y":-1.0},{"x":234,"y":-1.4},{"x":238,"y":-1.2},{"x":242,"y":-1.5},{"x":246,"y":-0.9},{"x":250,"y":-0.4},{"x":254,"y":-0.1},{"x":258,"y":0.2},{"x":262,"y":0.0},{"x":266,"y":0.4},{"x":270,"y":0.6},{"x":274,"y":0.3},{"x":278,"y":0.5},{"x":282,"y":0.1},{"x":286,"y":0.4},{"x":290,"y":0.2},{"x":294,"y":0.5},{"x":298,"y":0.3},{"x":302,"y":0.6},{"x":306,"y":0.9},{"x":310,"y":0.4},{"x":314,"y":0.7},{"x":318,"y":-0.1},{"x":322,"y":-1.0},{"x":326,"y":-0.4},{"x":330,"y":-2.2},{"x":334,"y":-1.5},{"x":338,"y":0.0},{"x":342,"y":0.4},{"x":346,"y":0.1},{"x":350,"y":0.3},{"x":354,"y":-0.1},{"x":358,"y":0.1},{"x":362,"y":-0.2},{"x":366,"y":-0.5},{"x":370,"y":-0.9},{"x":374,"y":-0.7},{"x":378,"y":-1.0},{"x":382,"y":-0.5},{"x":386,"y":-0.6},{"x":390,"y":0.0},{"x":394,"y":0.3},{"x":398,"y":0.4},{"x":402,"y":0.6},{"x":406,"y":0.2},{"x":410,"y":0.6},{"x":414,"y":0.4},{"x":418,"y":0.3},{"x":422,"y":0.4},{"x":426,"y":0.0},{"x":430,"y":0.1},{"x":434,"y":0.2},{"x":438,"y":-0.3},{"x":442,"y":-0.5},{"x":446,"y":-0.1},{"x":450,"y":-0.4},{"x":454,"y":-0.2},{"x":458,"y":-0.5},{"x":462,"y":-0.2},{"x":466,"y":0.0},{"x":470,"y":0.1},{"x":474,"y":-0.2},{"x":478,"y":0.2},{"x":482,"y":0.0},{"x":486,"y":0.3},{"x":490,"y":0.2},{"x":494,"y":0.4},{"x":498,"y":0.1},{"x":502,"y":0.3},{"x":506,"y":0.0},{"x":510,"y":0.3},{"x":514,"y":0.2},{"x":518,"y":0.5},{"x":528,"y":-0.3},{"x":532,"y":0.8},{"x":536,"y":-1.0},{"x":540,"y":-0.3},{"x":544,"y":-1.5},{"x":548,"y":-0.7},{"x":552,"y":-1.9},{"x":556,"y":-0.4},{"x":560,"y":-1.3},{"x":564,"y":-2.1},{"x":568,"y":-0.8},{"x":572,"y":-1.4},{"x":576,"y":-0.6},{"x":580,"y":-1.8},{"x":584,"y":-0.7},{"x":588,"y":-2.2},{"x":592,"y":0.1},{"x":596,"y":-0.4},{"x":600,"y":0.5},{"x":604,"y":-0.1},{"x":608,"y":0.8},{"x":612,"y":-0.8},{"x":616,"y":0.3},{"x":620,"y":-0.2},{"x":624,"y":0.7},{"x":628,"y":-1.0},{"x":632,"y":0.9},{"x":636,"y":2.2},{"x":640,"y":0.4},{"x":644,"y":-1.2},{"x":648,"y":1.7},{"x":652,"y":-0.5},{"x":656,"y":0.8},{"x":660,"y":-1.4},{"x":664,"y":0.2},{"x":668,"y":-2.1},{"x":672,"y":-0.3},{"x":676,"y":-1.6},{"x":680,"y":-0.9},{"x":684,"y":-0.4},{"x":688,"y":-1.2},{"x":692,"y":-0.7},{"x":696,"y":-1.6},{"x":700,"y":0.0},{"x":704,"y":-0.8},{"x":708,"y":0.3},{"x":712,"y":0.9},{"x":716,"y":1.8},{"x":720,"y":0.7},{"x":724,"y":1.3},{"x":728,"y":0.2},{"x":732,"y":1.9},{"x":736,"y":-0.2},{"x":740,"y":0.6},{"x":744,"y":1.0},{"x":748,"y":-0.6},{"x":752,"y":0.2},{"x":756,"y":-1.4},{"x":760,"y":-2.0},{"x":764,"y":-1.1},{"x":768,"y":-2.7},{"x":772,"y":-1.6},{"x":776,"y":-1.0},{"x":780,"y":-2.2},{"x":784,"y":-0.6},{"x":788,"y":0.8},{"x":792,"y":1.8},{"x":796,"y":0.3},{"x":800,"y":1.5},{"x":804,"y":0.5},{"x":808,"y":2.0},{"x":812,"y":-0.4},{"x":816,"y":1.0},{"x":820,"y":1.6},{"x":824,"y":0.2},{"x":828,"y":1.9}],
"r3": [{"x":0,"y":0.0},{"x":517,"y":6.2},{"x":518,"y":0.3},{"x":526,"y":-0.2},{"x":535,"y":0.2},{"x":830,"y":3.7}],
"g3": [{"x":0,"y":0.1},{"x":5,"y":0.3},{"x":12,"y":0.1},{"x":20,"y":-0.2},{"x":35,"y":-0.35},{"x":55,"y":-0.3},{"x":75,"y":0.0},{"x":100,"y":0.05},{"x":200,"y":0.0},{"x":300,"y":0.05},{"x":400,"y":0.0},{"x":500,"y":0.0},{"x":515,"y":0.0},{"x":519,"y":0.8},{"x":523,"y":0.2},{"x":529,"y":-0.8},{"x":535,"y":-0.2},{"x":542,"y":0.3},{"x":560,"y":0.1},{"x":586,"y":-0.3},{"x":610,"y":-0.1},{"x":700,"y":-0.1},{"x":830,"y":-0.1}],
"d4": [{"x":0,"y":0.1},{"x":4,"y":-0.3},{"x":8,"y":0.3},{"x":12,"y":0.0},{"x":16,"y":0.4},{"x":20,"y":-0.2},{"x":24,"y":0.2},{"x":28,"y":-0.5},{"x":32,"y":0.1},{"x":36,"y":0.3},{"x":40,"y":-0.1},{"x":44,"y":0.2},{"x":48,"y":-0.4},{"x":52,"y":-0.2},{"x":56,"y":-0.5},{"x":60,"y":-0.3},{"x":64,"y":0.2},{"x":68,"y":0.6},{"x":72,"y":1.0},{"x":76,"y":1.4},{"x":78,"y":-1.6},{"x":80,"y":1.2},{"x":84,"y":0.8},{"x":88,"y":1.1},{"x":92,"y":0.5},{"x":96,"y":0.1},{"x":100,"y":-0.3},{"x":104,"y":-0.6},{"x":108,"y":-0.4},{"x":112,"y":-0.8},{"x":116,"y":-0.5},{"x":120,"y":-0.7},{"x":124,"y":-0.3},{"x":128,"y":-0.6},{"x":132,"y":-0.2},{"x":136,"y":-0.5},{"x":140,"y":-0.1},{"x":144,"y":-0.4},{"x":148,"y":0.0},{"x":152,"y":0.2},{"x":156,"y":-0.1},{"x":160,"y":0.3},{"x":164,"y":0.1},{"x":168,"y":0.4},{"x":172,"y":0.0},{"x":176,"y":0.3},{"x":180,"y":0.6},{"x":184,"y":0.2},{"x":188,"y":0.5},{"x":192,"y":0.8},{"x":196,"y":0.6},{"x":200,"y":1.0},{"x":204,"y":0.7},{"x":208,"y":0.9},{"x":212,"y":0.5},{"x":216,"y":0.3},{"x":220,"y":0.6},{"x":224,"y":0.2},{"x":228,"y":-0.1},{"x":232,"y":0.1},{"x":236,"y":-0.3},{"x":240,"y":0.0},{"x":244,"y":0.3},{"x":248,"y":-0.2},{"x":252,"y":0.1},{"x":256,"y":0.2},{"x":260,"y":-0.1},{"x":264,"y":0.4},{"x":268,"y":0.1},{"x":272,"y":-0.2},{"x":276,"y":-0.5},{"x":280,"y":-0.9},{"x":284,"y":-2.1},{"x":288,"y":-0.7},{"x":292,"y":-1.0},{"x":296,"y":-0.4},{"x":300,"y":-0.6},{"x":304,"y":0.1},{"x":308,"y":0.3},{"x":312,"y":-0.1},{"x":316,"y":0.4},{"x":320,"y":0.2},{"x":324,"y":0.5},{"x":328,"y":0.0},{"x":332,"y":0.3},{"x":336,"y":0.6},{"x":340,"y":0.2},{"x":344,"y":0.5},{"x":348,"y":0.8},{"x":352,"y":0.6},{"x":356,"y":1.1},{"x":360,"y":0.9},{"x":364,"y":0.5},{"x":368,"y":0.7},{"x":372,"y":0.3},{"x":376,"y":0.0},{"x":380,"y":-0.3},{"x":384,"y":-0.6},{"x":388,"y":-0.2},{"x":392,"y":-0.8},{"x":396,"y":-0.5},{"x":400,"y":-2.0},{"x":404,"y":-2.6},{"x":408,"y":-0.9},{"x":412,"y":-0.4},{"x":416,"y":-0.7},{"x":420,"y":-0.2},{"x":424,"y":0.1},{"x":428,"y":0.4},{"x":432,"y":0.2},{"x":436,"y":0.6},{"x":440,"y":0.3},{"x":444,"y":0.0},{"x":448,"y":0.5},{"x":452,"y":0.2},{"x":456,"y":-0.1},{"x":460,"y":0.4},{"x":464,"y":0.7},{"x":468,"y":0.3},{"x":472,"y":0.9},{"x":476,"y":-2.0},{"x":480,"y":0.6},{"x":484,"y":2.9},{"x":488,"y":0.2},{"x":492,"y":0.5},{"x":496,"y":0.1},{"x":500,"y":0.3},{"x":504,"y":-0.2},{"x":508,"y":0.2},{"x":512,"y":0.0},{"x":516,"y":0.4},{"x":520,"y":0.1},{"x":524,"y":0.3},{"x":528,"y":-0.1},{"x":532,"y":0.2},{"x":536,"y":0.5},{"x":540,"y":0.1},{"x":544,"y":0.3},{"x":548,"y":-0.2},{"x":552,"y":0.1},{"x":556,"y":0.4},{"x":560,"y":0.0},{"x":564,"y":0.2},{"x":568,"y":-0.3},{"x":572,"y":0.1},{"x":576,"y":0.3},{"x":580,"y":-0.1},{"x":584,"y":0.2},{"x":588,"y":0.4},{"x":592,"y":0.0},{"x":596,"y":0.2},{"x":600,"y":-0.2},{"x":604,"y":-0.5},{"x":608,"y":-0.3},{"x":612,"y":-0.8},{"x":616,"y":-0.6},{"x":620,"y":-1.0},{"x":624,"y":-0.7},{"x":628,"y":-0.4},{"x":632,"y":-0.6},{"x":636,"y":-0.1},{"x":640,"y":0.1},{"x":644,"y":0.3},{"x":648,"y":0.0},{"x":652,"y":0.4},{"x":656,"y":0.6},{"x":660,"y":0.8},{"x":664,"y":0.5},{"x":668,"y":0.7},{"x":672,"y":0.3},{"x":676,"y":0.5},{"x":680,"y":0.1},{"x":684,"y":-0.2},{"x":688,"y":0.0},{"x":692,"y":-0.4},{"x":696,"y":-0.1},{"x":700,"y":-0.3},{"x":704,"y":0.1},{"x":708,"y":-0.2},{"x":712,"y":-0.5},{"x":716,"y":-0.1},{"x":720,"y":0.2},{"x":724,"y":-0.3},{"x":728,"y":0.0},{"x":732,"y":-0.2},{"x":736,"y":0.3},{"x":740,"y":0.6},{"x":744,"y":1.2},{"x":748,"y":1.7},{"x":752,"y":2.2},{"x":756,"y":1.5},{"x":760,"y":0.9},{"x":764,"y":0.2},{"x":768,"y":-0.3},{"x":772,"y":-0.1},{"x":776,"y":-0.5},{"x":780,"y":0.1},{"x":784,"y":-0.2},{"x":788,"y":0.3},{"x":792,"y":-0.1},{"x":796,"y":0.2},{"x":800,"y":0.0},
{"x":2,"y":0.2},{"x":6,"y":-0.1},{"x":10,"y":-0.3},{"x":14,"y":0.2},{"x":18,"y":0.0},{"x":22,"y":0.3},{"x":26,"y":-0.1},{"x":30,"y":-0.3},{"x":34,"y":0.2},{"x":38,"y":0.0},{"x":42,"y":0.3},{"x":46,"y":-0.2},{"x":50,"y":-0.4},{"x":54,"y":-0.1},{"x":58,"y":-0.4},{"x":62,"y":0.0},{"x":66,"y":0.4},{"x":70,"y":0.8},{"x":74,"y":1.2},{"x":82,"y":1.0},{"x":86,"y":1.3},{"x":90,"y":0.7},{"x":94,"y":0.3},{"x":98,"y":-0.1},{"x":102,"y":-0.5},{"x":106,"y":-0.3},{"x":110,"y":-0.7},{"x":114,"y":-0.6},{"x":118,"y":-0.3},{"x":122,"y":-0.8},{"x":126,"y":-0.5},{"x":130,"y":-0.4},{"x":134,"y":-0.7},{"x":138,"y":-0.3},{"x":142,"y":-0.2},{"x":146,"y":0.1},{"x":150,"y":-0.2},{"x":154,"y":0.0},{"x":158,"y":0.2},{"x":162,"y":0.4},{"x":166,"y":0.0},{"x":170,"y":0.2},{"x":174,"y":0.5},{"x":178,"y":0.1},{"x":182,"y":0.4},{"x":186,"y":0.7},{"x":190,"y":0.3},{"x":194,"y":0.6},{"x":198,"y":0.9},{"x":202,"y":0.8},{"x":206,"y":0.5},{"x":210,"y":0.8},{"x":214,"y":0.4},{"x":218,"y":0.7},{"x":222,"y":0.4},{"x":226,"y":0.1},{"x":230,"y":-0.2},{"x":234,"y":0.2},{"x":238,"y":-0.1},{"x":242,"y":0.1},{"x":246,"y":0.0},{"x":250,"y":-0.3},{"x":254,"y":0.3},{"x":258,"y":0.0},{"x":262,"y":0.2},{"x":266,"y":-0.2},{"x":270,"y":0.0},{"x":274,"y":-0.4},{"x":278,"y":-0.7},{"x":282,"y":-0.6},{"x":286,"y":-1.0},{"x":290,"y":-0.5},{"x":294,"y":-0.8},{"x":298,"y":-0.3},{"x":302,"y":-0.2},{"x":306,"y":0.0},{"x":310,"y":0.2},{"x":314,"y":0.0},{"x":318,"y":0.3},{"x":322,"y":0.1},{"x":326,"y":0.4},{"x":330,"y":0.2},{"x":334,"y":0.5},{"x":338,"y":0.3},{"x":342,"y":0.7},{"x":346,"y":0.4},{"x":350,"y":0.9},{"x":354,"y":0.8},{"x":358,"y":0.6},{"x":362,"y":1.0},{"x":366,"y":0.6},{"x":370,"y":0.4},{"x":374,"y":0.1},{"x":378,"y":-0.2},{"x":382,"y":-0.5},{"x":386,"y":-0.4},{"x":390,"y":-0.6},{"x":394,"y":-1.0},{"x":398,"y":-0.7},{"x":402,"y":-0.4},{"x":406,"y":-0.8},{"x":410,"y":-0.6},{"x":414,"y":-0.9},{"x":418,"y":-0.3},{"x":422,"y":0.0},{"x":426,"y":0.2},{"x":430,"y":0.0},{"x":434,"y":0.4},{"x":438,"y":0.1},{"x":442,"y":0.5},{"x":446,"y":0.2},{"x":450,"y":0.4},{"x":454,"y":0.0},{"x":458,"y":0.3},{"x":462,"y":0.5},{"x":466,"y":0.2},{"x":470,"y":0.6},{"x":474,"y":0.4},{"x":478,"y":0.8},{"x":482,"y":0.3},{"x":486,"y":0.5},{"x":490,"y":0.0},{"x":494,"y":0.3},{"x":498,"y":0.0},{"x":502,"y":0.2},{"x":506,"y":0.0},{"x":510,"y":0.3},{"x":514,"y":-0.1},{"x":518,"y":0.2},{"x":522,"y":0.4},{"x":526,"y":0.1},{"x":530,"y":0.0},{"x":534,"y":0.3},{"x":538,"y":0.2},{"x":542,"y":0.4},{"x":546,"y":0.0},{"x":550,"y":0.2},{"x":554,"y":0.2},{"x":558,"y":-0.1},{"x":562,"y":0.3},{"x":566,"y":0.0},{"x":570,"y":-0.2},{"x":574,"y":0.2},{"x":578,"y":0.0},{"x":582,"y":0.3},{"x":586,"y":0.1},{"x":590,"y":0.3},{"x":594,"y":-0.1},{"x":598,"y":0.0},{"x":602,"y":-0.4},{"x":606,"y":-0.2},{"x":610,"y":-0.6},{"x":614,"y":-0.9},{"x":618,"y":-0.7},{"x":622,"y":-0.9},{"x":626,"y":-0.5},{"x":630,"y":-0.8},{"x":634,"y":-0.3},{"x":638,"y":0.0},{"x":642,"y":0.2},{"x":646,"y":0.1},{"x":650,"y":0.3},{"x":654,"y":0.5},{"x":658,"y":0.5},{"x":662,"y":0.9},{"x":666,"y":0.6},{"x":670,"y":0.5},{"x":674,"y":0.4},{"x":678,"y":0.2},{"x":682,"y":0.0},{"x":686,"y":-0.3},{"x":690,"y":-0.1},{"x":694,"y":-0.2},{"x":698,"y":-0.4},{"x":702,"y":0.0},{"x":706,"y":-0.3},{"x":710,"y":-0.1},{"x":714,"y":-0.3},{"x":718,"y":0.1},{"x":722,"y":-0.1},{"x":726,"y":-0.4},{"x":730,"y":0.1},{"x":734,"y":0.0},{"x":738,"y":0.4},{"x":742,"y":0.9},{"x":746,"y":1.4},{"x":750,"y":1.9},{"x":754,"y":1.8},{"x":758,"y":1.2},{"x":762,"y":0.5},{"x":766,"y":0.0},{"x":770,"y":-0.4},{"x":774,"y":-0.2},{"x":778,"y":-0.6},{"x":782,"y":0.0},{"x":786,"y":-0.3},{"x":790,"y":0.1},{"x":794,"y":-0.2},{"x":798,"y":0.1}],
"r4": [{"x":0,"y":0.1},{"x":800,"y":8.7}],
"g4": [{"x":0,"y":-0.4},{"x":8,"y":-0.1},{"x":20,"y":0.1},{"x":35,"y":0.0},{"x":50,"y":-0.2},{"x":65,"y":0.0},{"x":85,"y":0.4},{"x":100,"y":0.3},{"x":120,"y":0.05},{"x":150,"y":0.0},{"x":200,"y":0.05},{"x":250,"y":0.1},{"x":300,"y":0.0},{"x":400,"y":0.05},{"x":500,"y":0.1},{"x":600,"y":0.05},{"x":700,"y":0.1},{"x":800,"y":0.1}],
"d5": [{"x":0,"y":0.8},{"x":4,"y":1.1},{"x":8,"y":0.7},{"x":12,"y":1.2},{"x":16,"y":0.9},{"x":20,"y":1.1},{"x":24,"y":0.6},{"x":28,"y":1.0},{"x":32,"y":0.8},{"x":36,"y":0.5},{"x":40,"y":0.9},{"x":44,"y":0.6},{"x":48,"y":0.8},{"x":52,"y":0.4},{"x":56,"y":0.7},{"x":60,"y":0.9},{"x":64,"y":0.5},{"x":68,"y":0.8},{"x":72,"y":0.3},{"x":76,"y":0.6},{"x":80,"y":0.9},{"x":84,"y":0.7},{"x":88,"y":0.4},{"x":92,"y":0.6},{"x":96,"y":0.3},{"x":100,"y":0.1},{"x":104,"y":0.3},{"x":108,"y":0.0},{"x":112,"y":0.2},{"x":116,"y":-0.1},{"x":120,"y":0.3},{"x":124,"y":0.1},{"x":128,"y":0.4},{"x":132,"y":0.6},{"x":136,"y":0.3},{"x":140,"y":0.7},{"x":144,"y":0.5},{"x":148,"y":0.2},{"x":152,"y":0.6},{"x":156,"y":-0.2},{"x":160,"y":0.4},{"x":164,"y":0.7},{"x":168,"y":0.5},{"x":172,"y":0.8},{"x":176,"y":1.0},{"x":180,"y":1.2},{"x":184,"y":0.9},{"x":188,"y":1.3},{"x":192,"y":1.0},{"x":196,"y":1.1},{"x":200,"y":0.8},{"x":204,"y":0.6},{"x":208,"y":0.9},{"x":212,"y":0.5},{"x":216,"y":0.3},{"x":220,"y":0.6},{"x":224,"y":0.4},{"x":228,"y":0.7},{"x":232,"y":0.2},{"x":236,"y":0.5},{"x":240,"y":0.4},{"x":244,"y":0.1},{"x":248,"y":0.5},{"x":252,"y":0.9},{"x":256,"y":1.1},{"x":260,"y":0.8},{"x":264,"y":1.8},{"x":266,"y":-1.5},{"x":268,"y":1.0},{"x":270,"y":-1.0},{"x":272,"y":0.7},{"x":276,"y":0.4},{"x":280,"y":0.6},{"x":284,"y":0.2},{"x":288,"y":0.5},{"x":292,"y":0.3},{"x":296,"y":0.6},{"x":300,"y":0.4},{"x":304,"y":0.7},{"x":308,"y":0.5},{"x":312,"y":0.8},{"x":316,"y":1.0},{"x":320,"y":0.9},{"x":324,"y":1.2},{"x":328,"y":0.8},{"x":332,"y":1.0},{"x":336,"y":0.6},{"x":340,"y":0.8},{"x":344,"y":0.5},{"x":348,"y":0.7},{"x":352,"y":0.4},{"x":356,"y":0.6},{"x":360,"y":0.3},{"x":364,"y":0.7},{"x":368,"y":0.5},{"x":372,"y":0.8},{"x":376,"y":0.6},{"x":380,"y":0.4},{"x":384,"y":0.7},{"x":388,"y":0.5},{"x":392,"y":0.3},{"x":396,"y":0.6},{"x":400,"y":0.2},{"x":404,"y":0.5},{"x":408,"y":0.3},{"x":412,"y":0.1},{"x":416,"y":0.4},{"x":420,"y":0.0},{"x":424,"y":0.3},{"x":428,"y":0.1},{"x":432,"y":0.4},{"x":436,"y":0.2},{"x":440,"y":0.0},{"x":444,"y":0.3},{"x":448,"y":0.5},{"x":452,"y":0.2},{"x":456,"y":0.6},{"x":460,"y":0.4},{"x":464,"y":0.7},{"x":468,"y":0.5},{"x":472,"y":0.8},{"x":476,"y":0.9},{"x":480,"y":1.1},{"x":484,"y":1.3},{"x":488,"y":1.0},{"x":492,"y":1.2},{"x":496,"y":0.9},{"x":500,"y":1.1},{"x":504,"y":0.7},{"x":508,"y":0.5},{"x":512,"y":0.3},{"x":516,"y":0.6},{"x":520,"y":0.2},{"x":524,"y":0.4},{"x":528,"y":0.1},{"x":532,"y":0.5},{"x":536,"y":0.3},{"x":540,"y":0.6},{"x":544,"y":0.4},{"x":548,"y":0.2},{"x":552,"y":0.5},{"x":556,"y":0.7},{"x":560,"y":0.9},{"x":564,"y":0.6},{"x":568,"y":1.0},{"x":572,"y":0.8},{"x":576,"y":0.6},{"x":580,"y":0.9},{"x":584,"y":0.5},{"x":588,"y":0.7},{"x":592,"y":0.4},{"x":596,"y":0.6},{"x":600,"y":0.3},{"x":604,"y":0.5},{"x":608,"y":0.2},{"x":612,"y":0.6},{"x":616,"y":0.8},{"x":620,"y":2.2},{"x":624,"y":0.7},{"x":628,"y":1.0},{"x":632,"y":0.6},{"x":636,"y":0.4},{"x":640,"y":0.7},{"x":644,"y":0.3},{"x":648,"y":0.5},{"x":652,"y":0.2},{"x":656,"y":0.4},{"x":660,"y":0.6},{"x":664,"y":0.3},{"x":668,"y":0.7},{"x":672,"y":0.5},{"x":676,"y":0.8},{"x":680,"y":0.6},{"x":684,"y":0.4},{"x":688,"y":0.7},{"x":692,"y":0.5},{"x":696,"y":0.3},{"x":700,"y":0.6},{"x":704,"y":0.4},{"x":708,"y":0.7},{"x":712,"y":0.5},{"x":716,"y":0.8},{"x":720,"y":1.5},{"x":724,"y":0.6},{"x":728,"y":0.4},{"x":732,"y":0.2},{"x":736,"y":0.5},{"x":740,"y":0.3},{"x":744,"y":0.0},{"x":748,"y":0.4},{"x":752,"y":0.2},{"x":756,"y":0.5},{"x":760,"y":0.3},{"x":764,"y":0.1},{"x":768,"y":0.4},{"x":772,"y":0.2},{"x":776,"y":0.5},{"x":780,"y":0.3},{"x":784,"y":0.6},{"x":788,"y":0.8},{"x":792,"y":1.1},{"x":796,"y":0.9},{"x":800,"y":1.2},{"x":804,"y":0.8},{"x":808,"y":1.0},{"x":812,"y":1.3},{"x":816,"y":0.9},{"x":820,"y":1.1},{"x":824,"y":0.7},{"x":828,"y":1.0},{"x":832,"y":1.2},{"x":836,"y":0.8},{"x":840,"y":1.1},{"x":844,"y":0.9},{"x":848,"y":1.3},{"x":852,"y":0.7},{"x":856,"y":1.0},{"x":860,"y":0.8},{"x":864,"y":1.1},
{"x":2,"y":1.0},{"x":6,"y":0.9},{"x":10,"y":1.1},{"x":14,"y":0.8},{"x":18,"y":1.2},{"x":22,"y":0.9},{"x":26,"y":0.8},{"x":30,"y":1.1},{"x":34,"y":0.7},{"x":38,"y":0.8},{"x":42,"y":0.7},{"x":46,"y":1.0},{"x":50,"y":0.6},{"x":54,"y":0.8},{"x":58,"y":0.5},{"x":62,"y":0.7},{"x":66,"y":1.0},{"x":70,"y":0.6},{"x":74,"y":0.5},{"x":78,"y":0.8},{"x":82,"y":0.5},{"x":86,"y":0.6},{"x":90,"y":0.8},{"x":94,"y":0.4},{"x":98,"y":0.2},{"x":102,"y":0.2},{"x":106,"y":0.4},{"x":110,"y":0.1},{"x":114,"y":0.0},{"x":118,"y":0.2},{"x":122,"y":0.0},{"x":126,"y":0.3},{"x":130,"y":0.5},{"x":134,"y":0.4},{"x":138,"y":0.5},{"x":142,"y":0.3},{"x":146,"y":0.6},{"x":150,"y":0.4},{"x":154,"y":0.3},{"x":158,"y":0.5},{"x":162,"y":0.6},{"x":166,"y":0.4},{"x":170,"y":0.7},{"x":174,"y":0.9},{"x":178,"y":1.1},{"x":182,"y":1.0},{"x":186,"y":1.2},{"x":190,"y":0.9},{"x":194,"y":1.2},{"x":198,"y":0.9},{"x":202,"y":0.7},{"x":206,"y":0.8},{"x":210,"y":0.6},{"x":214,"y":0.4},{"x":218,"y":0.5},{"x":222,"y":0.7},{"x":226,"y":0.5},{"x":230,"y":0.4},{"x":234,"y":0.3},{"x":238,"y":0.6},{"x":242,"y":0.3},{"x":246,"y":0.4},{"x":250,"y":0.7},{"x":254,"y":1.0},{"x":258,"y":1.2},{"x":262,"y":0.9},{"x":274,"y":0.6},{"x":278,"y":0.5},{"x":282,"y":0.3},{"x":286,"y":0.6},{"x":290,"y":0.4},{"x":294,"y":0.5},{"x":298,"y":0.7},{"x":302,"y":0.5},{"x":306,"y":0.6},{"x":310,"y":0.7},{"x":314,"y":0.9},{"x":318,"y":1.1},{"x":322,"y":1.0},{"x":326,"y":1.1},{"x":330,"y":0.9},{"x":334,"y":0.8},{"x":338,"y":0.7},{"x":342,"y":0.6},{"x":346,"y":0.8},{"x":350,"y":0.5},{"x":354,"y":0.5},{"x":358,"y":0.4},{"x":362,"y":0.6},{"x":366,"y":0.6},{"x":370,"y":0.7},{"x":374,"y":0.5},{"x":378,"y":0.7},{"x":382,"y":0.5},{"x":386,"y":0.6},{"x":390,"y":0.4},{"x":394,"y":0.5},{"x":398,"y":0.4},{"x":402,"y":0.3},{"x":406,"y":0.4},{"x":410,"y":0.2},{"x":414,"y":0.3},{"x":418,"y":0.1},{"x":422,"y":0.2},{"x":426,"y":0.2},{"x":430,"y":0.3},{"x":434,"y":0.1},{"x":438,"y":0.3},{"x":442,"y":0.1},{"x":446,"y":0.4},{"x":450,"y":0.3},{"x":454,"y":0.4},{"x":458,"y":0.5},{"x":462,"y":0.6},{"x":466,"y":0.6},{"x":470,"y":0.7},{"x":474,"y":1.0},{"x":478,"y":1.0},{"x":482,"y":1.2},{"x":486,"y":1.1},{"x":490,"y":1.0},{"x":494,"y":1.1},{"x":498,"y":1.0},{"x":502,"y":0.8},{"x":506,"y":0.6},{"x":510,"y":0.4},{"x":514,"y":0.5},{"x":518,"y":0.4},{"x":522,"y":0.3},{"x":526,"y":0.3},{"x":530,"y":0.2},{"x":534,"y":0.4},{"x":538,"y":0.5},{"x":542,"y":0.5},{"x":546,"y":0.3},{"x":550,"y":0.4},{"x":554,"y":0.6},{"x":558,"y":0.8},{"x":562,"y":0.8},{"x":566,"y":0.9},{"x":570,"y":0.7},{"x":574,"y":0.7},{"x":578,"y":0.8},{"x":582,"y":0.7},{"x":586,"y":0.6},{"x":590,"y":0.5},{"x":594,"y":0.5},{"x":598,"y":0.4},{"x":602,"y":0.4},{"x":606,"y":0.3},{"x":610,"y":0.4},{"x":614,"y":0.7},{"x":618,"y":0.6},{"x":622,"y":0.9},{"x":626,"y":0.8},{"x":630,"y":0.8},{"x":634,"y":0.5},{"x":638,"y":0.6},{"x":642,"y":0.5},{"x":646,"y":0.4},{"x":650,"y":0.3},{"x":654,"y":0.3},{"x":658,"y":0.5},{"x":662,"y":0.5},{"x":666,"y":0.5},{"x":670,"y":0.6},{"x":674,"y":0.6},{"x":678,"y":0.7},{"x":682,"y":0.5},{"x":686,"y":0.6},{"x":690,"y":0.6},{"x":694,"y":0.4},{"x":698,"y":0.4},{"x":702,"y":0.5},{"x":706,"y":0.6},{"x":710,"y":0.6},{"x":714,"y":0.6},{"x":718,"y":0.7},{"x":722,"y":0.7},{"x":726,"y":0.5},{"x":730,"y":0.3},{"x":734,"y":0.4},{"x":738,"y":0.4},{"x":742,"y":0.1},{"x":746,"y":0.2},{"x":750,"y":0.3},{"x":754,"y":0.4},{"x":758,"y":0.4},{"x":762,"y":0.2},{"x":766,"y":0.3},{"x":770,"y":0.3},{"x":774,"y":0.4},{"x":778,"y":0.4},{"x":782,"y":0.5},{"x":786,"y":0.7},{"x":790,"y":0.9},{"x":794,"y":1.0},{"x":798,"y":1.0},{"x":802,"y":1.1},{"x":806,"y":0.9},{"x":810,"y":1.2},{"x":814,"y":1.0},{"x":818,"y":1.0},{"x":822,"y":0.9},{"x":826,"y":0.9},{"x":830,"y":1.1},{"x":834,"y":1.0},{"x":838,"y":0.9},{"x":842,"y":1.0},{"x":846,"y":1.1},{"x":850,"y":1.0},{"x":854,"y":0.9},{"x":858,"y":1.2},{"x":862,"y":0.9}],
"r5": [{"x":0,"y":0.0},{"x":865,"y":8.4}],
"g5": [{"x":0,"y":0.0},{"x":5,"y":0.4},{"x":15,"y":0.8},{"x":25,"y":0.85},{"x":40,"y":0.7},{"x":80,"y":0.6},{"x":200,"y":0.55},{"x":400,"y":0.6},{"x":600,"y":0.55},{"x":865,"y":0.55}],
"d6": [{"x":0,"y":0.1},{"x":5,"y":-0.2},{"x":10,"y":0.2},{"x":15,"y":0.0},{"x":20,"y":-0.1},{"x":25,"y":-0.3},{"x":30,"y":-0.2},{"x":35,"y":-0.4},{"x":40,"y":-0.3},{"x":45,"y":-0.1},{"x":50,"y":0.1},{"x":55,"y":-0.1},{"x":60,"y":0.2},{"x":65,"y":0.0},{"x":70,"y":0.2},{"x":75,"y":0.3},{"x":80,"y":0.4},{"x":85,"y":0.2},{"x":90,"y":0.3},{"x":95,"y":0.0},{"x":100,"y":-0.2},{"x":105,"y":-0.4},{"x":110,"y":-0.3},{"x":115,"y":-0.5},{"x":120,"y":-0.2},{"x":125,"y":-0.1},{"x":130,"y":0.1},{"x":135,"y":-0.1},{"x":140,"y":0.0},{"x":145,"y":0.2},{"x":150,"y":0.0},{"x":155,"y":-0.2},{"x":160,"y":0.1},{"x":165,"y":0.2},{"x":170,"y":0.0},{"x":175,"y":-0.1},{"x":180,"y":0.1},{"x":185,"y":-0.2},{"x":190,"y":0.0},{"x":195,"y":0.2},{"x":200,"y":0.1},{"x":205,"y":-0.1},{"x":210,"y":-0.3},{"x":215,"y":-0.2},{"x":220,"y":-0.4},{"x":225,"y":-0.5},{"x":230,"y":-0.3},{"x":235,"y":-0.1},{"x":240,"y":0.1},{"x":245,"y":0.2},{"x":250,"y":0.0},{"x":255,"y":0.3},{"x":260,"y":0.1},{"x":265,"y":0.3},{"x":270,"y":0.2},{"x":275,"y":0.0},{"x":280,"y":-0.1},{"x":285,"y":-0.3},{"x":290,"y":-0.2},{"x":295,"y":-0.4},{"x":300,"y":-0.2},{"x":305,"y":0.0},{"x":310,"y":0.2},{"x":315,"y":0.1},{"x":320,"y":0.3},{"x":325,"y":0.1},{"x":330,"y":0.0},{"x":335,"y":-0.2},{"x":340,"y":0.0},{"x":345,"y":-0.1},{"x":350,"y":0.1},{"x":355,"y":-0.1},{"x":360,"y":0.0},{"x":365,"y":0.2},{"x":370,"y":-0.1},{"x":375,"y":0.1},{"x":380,"y":0.0},{"x":385,"y":-0.2},{"x":390,"y":0.1},{"x":395,"y":-0.1},{"x":400,"y":0.0},{"x":405,"y":-0.3},{"x":410,"y":-0.2},{"x":415,"y":-0.4},{"x":420,"y":-0.3},{"x":425,"y":-0.1},{"x":430,"y":0.1},{"x":435,"y":0.0},{"x":440,"y":0.2},{"x":445,"y":0.1},{"x":450,"y":0.3},{"x":455,"y":0.2},{"x":460,"y":0.0},{"x":465,"y":0.1},{"x":470,"y":-0.1},{"x":475,"y":0.0},{"x":480,"y":-0.2},{"x":485,"y":0.0},{"x":490,"y":0.1},{"x":495,"y":-0.1},{"x":500,"y":0.0},{"x":505,"y":0.2},{"x":510,"y":0.1},{"x":515,"y":-0.1},{"x":520,"y":0.0},{"x":525,"y":-0.2},{"x":530,"y":-0.1},{"x":535,"y":0.1},{"x":540,"y":0.0},{"x":545,"y":0.2},{"x":550,"y":0.0},{"x":555,"y":-0.1},{"x":560,"y":0.1},{"x":565,"y":0.0},{"x":570,"y":-0.2},{"x":575,"y":0.0},{"x":580,"y":0.1},{"x":585,"y":0.2},{"x":590,"y":0.0},{"x":595,"y":0.2},{"x":600,"y":0.3},{"x":605,"y":0.4},{"x":610,"y":0.5},{"x":615,"y":0.3},{"x":620,"y":0.1},{"x":625,"y":-0.1},{"x":630,"y":-0.3},{"x":635,"y":-0.4},{"x":640,"y":-0.5},{"x":645,"y":-0.3},{"x":650,"y":-0.1},{"x":655,"y":0.1},{"x":660,"y":0.0},{"x":665,"y":0.2},{"x":670,"y":0.1},{"x":675,"y":-0.1},{"x":680,"y":0.0},{"x":685,"y":0.2},{"x":690,"y":0.1},{"x":695,"y":-0.1},{"x":700,"y":0.0},{"x":705,"y":0.1},{"x":710,"y":-0.1},{"x":715,"y":0.0},{"x":720,"y":0.2},{"x":725,"y":0.1},{"x":730,"y":0.3},{"x":735,"y":0.1},{"x":740,"y":0.2},{"x":745,"y":0.0},{"x":750,"y":-0.2},{"x":755,"y":-0.4},{"x":760,"y":-0.3},{"x":765,"y":-0.5},{"x":770,"y":-0.3},{"x":775,"y":-0.1},{"x":780,"y":0.0},{"x":785,"y":0.2},{"x":790,"y":0.1},{"x":795,"y":0.3},{"x":800,"y":0.0},{"x":805,"y":-0.1},{"x":810,"y":0.1},{"x":815,"y":-0.2},{"x":820,"y":0.0},{"x":825,"y":0.2},{"x":830,"y":-0.1},
{"x":2,"y":-0.1},{"x":7,"y":0.0},{"x":12,"y":0.1},{"x":17,"y":-0.2},{"x":22,"y":-0.2},{"x":27,"y":-0.4},{"x":32,"y":-0.3},{"x":37,"y":-0.2},{"x":42,"y":-0.2},{"x":47,"y":0.0},{"x":52,"y":-0.1},{"x":57,"y":0.1},{"x":62,"y":0.0},{"x":67,"y":0.3},{"x":72,"y":0.1},{"x":77,"y":0.2},{"x":82,"y":0.3},{"x":87,"y":0.4},{"x":92,"y":0.1},{"x":97,"y":-0.1},{"x":102,"y":-0.3},{"x":107,"y":-0.2},{"x":112,"y":-0.4},{"x":117,"y":-0.3},{"x":122,"y":-0.4},{"x":127,"y":0.0},{"x":132,"y":-0.1},{"x":137,"y":0.1},{"x":142,"y":-0.1},{"x":147,"y":0.1},{"x":152,"y":-0.1},{"x":157,"y":0.0},{"x":162,"y":0.0},{"x":167,"y":0.1},{"x":172,"y":-0.1},{"x":177,"y":0.1},{"x":182,"y":0.0},{"x":187,"y":-0.1},{"x":192,"y":0.1},{"x":197,"y":0.0},{"x":202,"y":0.2},{"x":207,"y":-0.2},{"x":212,"y":-0.2},{"x":217,"y":-0.3},{"x":222,"y":-0.3},{"x":227,"y":-0.4},{"x":232,"y":-0.2},{"x":237,"y":0.0},{"x":242,"y":0.0},{"x":247,"y":0.1},{"x":252,"y":0.2},{"x":257,"y":0.2},{"x":262,"y":0.2},{"x":267,"y":0.1},{"x":272,"y":0.1},{"x":277,"y":-0.2},{"x":282,"y":-0.2},{"x":287,"y":-0.2},{"x":292,"y":-0.3},{"x":297,"y":-0.3},{"x":302,"y":-0.1},{"x":307,"y":0.1},{"x":312,"y":0.1},{"x":317,"y":0.2},{"x":322,"y":0.2},{"x":327,"y":0.0},{"x":332,"y":-0.1},{"x":337,"y":-0.1},{"x":342,"y":0.1},{"x":347,"y":0.0},{"x":352,"y":-0.1},{"x":357,"y":0.1},{"x":362,"y":0.1},{"x":367,"y":0.0},{"x":372,"y":0.0},{"x":377,"y":-0.1},{"x":382,"y":-0.1},{"x":387,"y":0.0},{"x":392,"y":-0.1},{"x":397,"y":0.1},{"x":402,"y":-0.1},{"x":407,"y":-0.2},{"x":412,"y":-0.3},{"x":417,"y":-0.2},{"x":422,"y":-0.2},{"x":427,"y":0.0},{"x":432,"y":0.0},{"x":437,"y":0.1},{"x":442,"y":0.1},{"x":447,"y":0.2},{"x":452,"y":0.1},{"x":457,"y":0.1},{"x":462,"y":0.2},{"x":467,"y":-0.1},{"x":472,"y":0.1},{"x":477,"y":-0.1},{"x":482,"y":-0.1},{"x":487,"y":0.1},{"x":492,"y":0.0},{"x":497,"y":0.1},{"x":502,"y":0.1},{"x":507,"y":0.0},{"x":512,"y":0.0},{"x":517,"y":0.1},{"x":522,"y":-0.1},{"x":527,"y":-0.1},{"x":532,"y":0.0},{"x":537,"y":0.0},{"x":542,"y":0.1},{"x":547,"y":0.1},{"x":552,"y":-0.1},{"x":557,"y":0.0},{"x":562,"y":-0.1},{"x":567,"y":0.1},{"x":572,"y":-0.1},{"x":577,"y":0.1},{"x":582,"y":0.0},{"x":587,"y":0.1},{"x":592,"y":0.1},{"x":597,"y":0.3},{"x":602,"y":0.2},{"x":607,"y":0.3},{"x":612,"y":0.4},{"x":617,"y":0.2},{"x":622,"y":0.0},{"x":627,"y":-0.2},{"x":632,"y":-0.4},{"x":637,"y":-0.3},{"x":642,"y":-0.4},{"x":647,"y":-0.2},{"x":652,"y":0.0},{"x":657,"y":0.0},{"x":662,"y":0.1},{"x":667,"y":0.0},{"x":672,"y":0.0},{"x":677,"y":0.1},{"x":682,"y":0.1},{"x":687,"y":0.0},{"x":692,"y":0.0},{"x":697,"y":0.1},{"x":702,"y":-0.1},{"x":707,"y":0.0},{"x":712,"y":0.1},{"x":717,"y":0.1},{"x":722,"y":0.0},{"x":727,"y":0.2},{"x":732,"y":0.2},{"x":737,"y":0.2},{"x":742,"y":0.1},{"x":747,"y":-0.1},{"x":752,"y":-0.3},{"x":757,"y":-0.3},{"x":762,"y":-0.4},{"x":767,"y":-0.4},{"x":772,"y":-0.2},{"x":777,"y":-0.1},{"x":782,"y":0.1},{"x":787,"y":0.0},{"x":792,"y":0.2},{"x":797,"y":0.1},{"x":802,"y":-0.2},{"x":807,"y":0.0},{"x":812,"y":0.0},{"x":817,"y":-0.1},{"x":822,"y":0.1},{"x":827,"y":0.0}],
"r6": [{"x":0,"y":0.05},{"x":746,"y":8.1},{"x":747,"y":0.3},{"x":765,"y":0.0},{"x":775,"y":0.2},{"x":830,"y":0.55}],
"g6": [{"x":0,"y":-0.3},{"x":8,"y":0.1},{"x":30,"y":0.05},{"x":100,"y":0.0},{"x":300,"y":0.0},{"x":500,"y":0.0},{"x":745,"y":0.0},{"x":752,"y":-0.3},{"x":760,"y":-0.45},{"x":775,"y":-0.2},{"x":790,"y":0.0},{"x":830,"y":0.0}]
},
"columns": 3,
"spacing": {"row": 69, "column": 49},
"bounds": "flush",
"concat": [
  {"width": 311, "height": 124, "title": "Habituation Data (50 dB SPL) (Subject 1)",
   "layer": [
    {"data": {"name": "d1"}, "mark": {"type": "point", "clip": true},
     "encoding": {"x": {"field": "x", "type": "quantitative", "scale": {"domain": [0, 800], "nice": false, "zero": false}, "axis": {"orient": "bottom", "values": [0,200,400,600,800], "title": "Samples", "labelPadding": 6, "titlePadding": 4}},
       "y": {"field": "y", "type": "quantitative", "scale": {"domain": [-4, 7], "nice": false, "zero": false}, "axis": {"orient": "left", "values": [-4,-2,0,2,4,6], "title": "Θ", "labelPadding": 6, "titlePadding": 6}},
       "color": {"datum": "Data samples", "scale": {"domain": ["Data samples", "RunLength", "Predicted Mean"], "range": ["#000000", "#ff0000", "#00ff00"]},
         "legend": {"title": null, "orient": "none", "legendX": 674, "legendY": 358, "direction": "horizontal", "symbolType": "stroke", "symbolSize": 1100, "symbolStrokeWidth": 2, "labelFont": "Liberation Serif", "labelFontSize": 15.5, "labelColor": "#000000", "labelOffset": 4, "columnPadding": 8,
           "encode": {"symbols": {"update": {"shape": {"signal": "datum.value === 'Data samples' ? 'circle' : 'stroke'"}, "size": {"signal": "datum.value === 'Data samples' ? 6 : 1100"}, "fill": {"signal": "datum.value === 'Data samples' ? '#000000' : 'transparent'"}, "stroke": {"signal": "datum.value === 'Data samples' ? '#000000' : scale('color', datum.value)"}, "strokeWidth": {"signal": "datum.value === 'Data samples' ? 0 : 2"}}}}}}}},
    {"data": {"name": "r1"}, "mark": {"type": "line", "strokeWidth": 2, "clip": true},
     "encoding": {"x": {"field": "x", "type": "quantitative", "axis": {"orient": "top", "values": [0,200,400,600,800], "labels": false, "title": null}},
       "y": {"field": "y", "type": "quantitative", "axis": {"orient": "right", "values": [-4,-2,0,2,4,6], "labels": false, "title": null}},
       "color": {"datum": "RunLength"}}},
    {"data": {"name": "g1"}, "mark": {"type": "line", "strokeWidth": 2.8, "clip": true},
     "encoding": {"x": {"field": "x", "type": "quantitative", "axis": null}, "y": {"field": "y", "type": "quantitative", "axis": null}, "color": {"datum": "Predicted Mean"}}}
   ],
   "resolve": {"axis": {"x": "independent", "y": "independent"}}},
  {"width": 312, "height": 128, "title": "Habituation Data (50 dB SPL) (Subject 2)",
   "layer": [
    {"data": {"name": "d2"}, "mark": {"type": "point", "clip": true},
     "encoding": {"x": {"field": "x", "type": "quantitative", "scale": {"domain": [0, 865], "nice": false, "zero": false}, "axis": {"orient": "bottom", "values": [0,200,400,600,800], "title": "Samples", "labelPadding": 6, "titlePadding": 4}},
       "y": {"field": "y", "type": "quantitative", "scale": {"domain": [-5, 10], "nice": false, "zero": false}, "axis": {"orient": "left", "values": [-5,0,5,10], "title": "Θ", "labelPadding": 6, "titlePadding": 6}},
       "color": {"datum": "Data samples"}}},
    {"data": {"name": "r2"}, "mark": {"type": "line", "strokeWidth": 2.2, "clip": true},
     "encoding": {"x": {"field": "x", "type": "quantitative", "axis": {"orient": "top", "values": [0,200,400,600,800], "labels": false, "title": null}},
       "y": {"field": "y", "type": "quantitative", "axis": {"orient": "right", "values": [-5,0,5,10], "labels": false, "title": null}},
       "color": {"datum": "RunLength"}}},
    {"data": {"name": "g2"}, "mark": {"type": "line", "strokeWidth": 1.5, "clip": true},
     "encoding": {"x": {"field": "x", "type": "quantitative", "axis": null}, "y": {"field": "y", "type": "quantitative", "axis": null}, "color": {"datum": "Predicted Mean"}}}
   ],
   "resolve": {"axis": {"x": "independent", "y": "independent"}}},
  {"width": 313, "height": 127, "title": "Habituation Data (50 dB SPL) (Subject 3)",
   "layer": [
    {"data": {"name": "d3"}, "mark": {"type": "point", "clip": true},
     "encoding": {"x": {"field": "x", "type": "quantitative", "scale": {"domain": [0, 830], "nice": false, "zero": false}, "axis": {"orient": "bottom", "values": [0,200,400,600,800], "title": "Samples", "labelPadding": 6, "titlePadding": 4}},
       "y": {"field": "y", "type": "quantitative", "scale": {"domain": [-5, 10], "nice": false, "zero": false}, "axis": {"orient": "left", "values": [-5,0,5,10], "title": "Θ", "labelPadding": 6, "titlePadding": 6}},
       "color": {"datum": "Data samples"}}},
    {"data": {"name": "r3"}, "mark": {"type": "line", "strokeWidth": 2.2, "clip": true},
     "encoding": {"x": {"field": "x", "type": "quantitative", "axis": {"orient": "top", "values": [0,200,400,600,800], "labels": false, "title": null}},
       "y": {"field": "y", "type": "quantitative", "axis": {"orient": "right", "values": [-5,0,5,10], "labels": false, "title": null}},
       "color": {"datum": "RunLength"}}},
    {"data": {"name": "g3"}, "mark": {"type": "line", "strokeWidth": 1.5, "clip": true},
     "encoding": {"x": {"field": "x", "type": "quantitative", "axis": null}, "y": {"field": "y", "type": "quantitative", "axis": null}, "color": {"datum": "Predicted Mean"}}}
   ],
   "resolve": {"axis": {"x": "independent", "y": "independent"}}},
  {"width": 312, "height": 112, "title": {"text": "Non−Habituation Data (100dB SPL) (Subject 1)", "offset": -4},
   "layer": [
    {"data": {"name": "d4"}, "mark": {"type": "point", "clip": true},
     "encoding": {"x": {"field": "x", "type": "quantitative", "scale": {"domain": [0, 800], "nice": false, "zero": false}, "axis": {"orient": "bottom", "values": [0,200,400,600,800], "title": "Samples", "labelPadding": 6, "titlePadding": 3}},
       "y": {"field": "y", "type": "quantitative", "scale": {"domain": [-5, 10], "nice": false, "zero": false}, "axis": {"orient": "left", "values": [-5,0,5,10], "title": "Θ", "labelPadding": 6, "titlePadding": 6}},
       "color": {"datum": "Data samples"}}},
    {"data": {"name": "r4"}, "mark": {"type": "line", "strokeWidth": 2.4, "clip": true},
     "encoding": {"x": {"field": "x", "type": "quantitative", "axis": {"orient": "top", "values": [0,200,400,600,800], "labels": false, "title": null}},
       "y": {"field": "y", "type": "quantitative", "axis": {"orient": "right", "values": [-5,0,5,10], "labels": false, "title": null}},
       "color": {"datum": "RunLength"}}},
    {"data": {"name": "g4"}, "mark": {"type": "line", "strokeWidth": 1.5, "clip": true},
     "encoding": {"x": {"field": "x", "type": "quantitative", "axis": null}, "y": {"field": "y", "type": "quantitative", "axis": null}, "color": {"datum": "Predicted Mean"}}}
   ],
   "resolve": {"axis": {"x": "independent", "y": "independent"}}},
  {"width": 312, "height": 112, "title": {"text": "Non−Habituation Data (100dB SPL) (Subject 2)", "offset": -4},
   "layer": [
    {"data": {"name": "d5"}, "mark": {"type": "point", "clip": true},
     "encoding": {"x": {"field": "x", "type": "quantitative", "scale": {"domain": [0, 865], "nice": false, "zero": false}, "axis": {"orient": "bottom", "values": [0,200,400,600,800], "title": "Samples", "labelPadding": 6, "titlePadding": 3}},
       "y": {"field": "y", "type": "quantitative", "scale": {"domain": [-5, 10], "nice": false, "zero": false}, "axis": {"orient": "left", "values": [-5,0,5,10], "title": "Θ", "labelPadding": 6, "titlePadding": 6}},
       "color": {"datum": "Data samples"}}},
    {"data": {"name": "r5"}, "mark": {"type": "line", "strokeWidth": 2.4, "clip": true},
     "encoding": {"x": {"field": "x", "type": "quantitative", "axis": {"orient": "top", "values": [0,200,400,600,800], "labels": false, "title": null}},
       "y": {"field": "y", "type": "quantitative", "axis": {"orient": "right", "values": [-5,0,5,10], "labels": false, "title": null}},
       "color": {"datum": "RunLength"}}},
    {"data": {"name": "g5"}, "mark": {"type": "line", "strokeWidth": 2, "clip": true},
     "encoding": {"x": {"field": "x", "type": "quantitative", "axis": null}, "y": {"field": "y", "type": "quantitative", "axis": null}, "color": {"datum": "Predicted Mean"}}}
   ],
   "resolve": {"axis": {"x": "independent", "y": "independent"}}},
  {"width": 313, "height": 112, "title": {"text": "Non−Habituation Data (100dB SPL) (Subject 3)", "offset": -4},
   "layer": [
    {"data": {"name": "d6"}, "mark": {"type": "point", "clip": true},
     "encoding": {"x": {"field": "x", "type": "quantitative", "scale": {"domain": [0, 830], "nice": false, "zero": false}, "axis": {"orient": "bottom", "values": [0,200,400,600,800], "title": "Samples", "labelPadding": 6, "titlePadding": 3}},
       "y": {"field": "y", "type": "quantitative", "scale": {"domain": [-5, 10], "nice": false, "zero": false}, "axis": {"orient": "left", "values": [-5,0,5,10], "title": "Θ", "labelPadding": 6, "titlePadding": 6}},
       "color": {"datum": "Data samples"}}},
    {"data": {"name": "r6"}, "mark": {"type": "line", "strokeWidth": 2.4, "clip": true},
     "encoding": {"x": {"field": "x", "type": "quantitative", "axis": {"orient": "top", "values": [0,200,400,600,800], "labels": false, "title": null}},
       "y": {"field": "y", "type": "quantitative", "axis": {"orient": "right", "values": [-5,0,5,10], "labels": false, "title": null}},
       "color": {"datum": "RunLength"}}},
    {"data": {"name": "g6"}, "mark": {"type": "line", "strokeWidth": 2, "clip": true},
     "encoding": {"x": {"field": "x", "type": "quantitative", "axis": null}, "y": {"field": "y", "type": "quantitative", "axis": null}, "color": {"datum": "Predicted Mean"}}}
   ],
   "resolve": {"axis": {"x": "independent", "y": "independent"}}}
],
"resolve": {"scale": {"color": "shared", "x": "independent", "y": "independent"}, "legend": {"color": "shared"}}
}
